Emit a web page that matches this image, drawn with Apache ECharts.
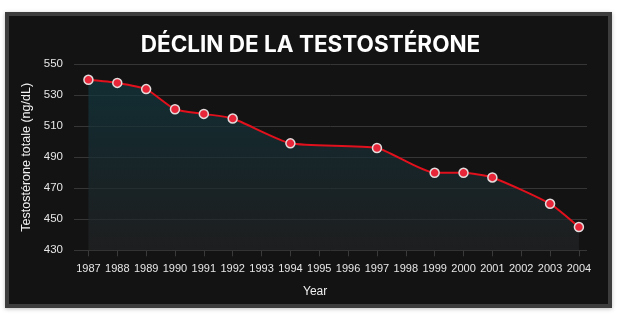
<!DOCTYPE html>
<html>
<head>
<meta charset="utf-8">
<script src="https://cdn.jsdelivr.net/npm/echarts@6/dist/echarts.min.js"></script>
<style>
  html, body { margin: 0; padding: 0; background: #ffffff; }
  #panel {
    position: absolute; left: 5px; top: 12px; width: 607px; height: 296px;
    box-sizing: border-box; border: 4px solid #3d3d3d; background: #131313;
    box-shadow: 0 1px 4px rgba(0,0,0,0.25);
  }
  #chart { position: absolute; left: 0; top: 0; width: 621px; height: 325px; }
</style>
</head>
<body>
<div id="panel"></div>
<div id="chart"></div>
<script>
// Total testosterone by survey year
const years = [1987, 1988, 1989, 1990, 1991, 1992, 1994, 1997, 1999, 2000, 2001, 2003, 2004];
const testosterone = [540, 538, 534, 521, 518, 515, 499, 496, 480, 480, 477, 460, 445];
const yearTicks = [1987, 1988, 1989, 1990, 1991, 1992, 1993, 1994, 1995, 1996,
                   1997, 1998, 1999, 2000, 2001, 2002, 2003, 2004];
const yTicks = [430, 450, 470, 490, 510, 530, 550];

const chart = echarts.init(document.getElementById('chart'), null, { renderer: 'canvas' });

chart.setOption({
  backgroundColor: 'transparent',
  animation: false,
  title: {
    text: 'DÉCLIN DE LA TESTOSTÉRONE',
    left: 'center',
    top: 29,
    textStyle: {
      color: '#ffffff',
      fontFamily: 'Inter, "Open Sans", sans-serif',
      fontWeight: 'bold',
      fontSize: 22.5
    }
  },
  grid: { left: 74, right: 34, top: 64.3, bottom: 74.7 },
  xAxis: {
    type: 'value',
    min: 1986.5,
    max: 2004.28,
    splitLine: { show: false },
    axisLine: { show: false },
    axisTick: {
      show: true,
      customValues: yearTicks,
      length: 6,
      lineStyle: { color: '#3a3a3a' }
    },
    axisLabel: {
      customValues: yearTicks,
      color: '#e6e6e6',
      fontFamily: '"Liberation Sans Narrow", "Liberation Sans", Arial, sans-serif',
      fontSize: 11,
      margin: 13,
      formatter: v => String(v)
    }
  },
  yAxis: {
    type: 'value',
    min: 430,
    max: 550,
    interval: 20,
    name: 'Testostérone totale (ng/dL)',
    nameLocation: 'middle',
    nameGap: 37,
    nameTextStyle: {
      color: '#f0f0f0',
      fontFamily: '"Liberation Sans", Arial, sans-serif',
      fontSize: 12.5
    },
    axisLine: { show: false },
    axisTick: { show: false },
    splitLine: { lineStyle: { color: '#363636', width: 1 } },
    axisLabel: {
      color: '#e6e6e6',
      fontFamily: '"Liberation Sans", Arial, sans-serif',
      fontSize: 11.5,
      margin: 11,
      customValues: yTicks
    }
  },
  graphic: [{
    type: 'text',
    left: 303,
    top: 286,
    style: {
      text: 'Year',
      fill: '#f0f0f0',
      font: '12px "Liberation Sans", Arial, sans-serif'
    }
  }],
  series: [{
    type: 'line',
    data: years.map((y, i) => [y, testosterone[i]]),
    smooth: 0.2,
    symbol: 'circle',
    symbolSize: 9,
    lineStyle: { color: '#e0101c', width: 2 },
    itemStyle: { color: '#e8263a', borderColor: '#e4dcdc', borderWidth: 1.5 },
    areaStyle: {
      color: new echarts.graphic.LinearGradient(0, 0, 0, 1, [
        { offset: 0, color: '#123a42' },
        { offset: 0.55, color: '#1b2c31' },
        { offset: 1, color: '#232425' }
      ])
    },
    z: 3
  }]
});
</script>
</body>
</html>
